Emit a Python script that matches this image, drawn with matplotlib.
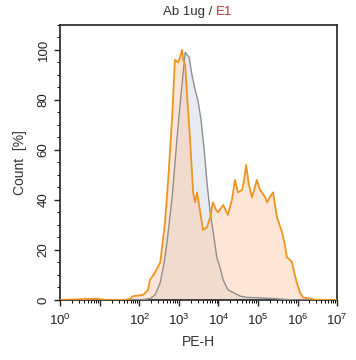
import numpy as np
import matplotlib
matplotlib.use("Agg")
import matplotlib.pyplot as plt
from matplotlib.ticker import LogLocator, NullFormatter

plt.rcParams['font.family'] = ['Liberation Sans', 'DejaVu Sans']
plt.rcParams['mathtext.fontset'] = 'custom'
plt.rcParams['mathtext.rm'] = 'Liberation Sans'
plt.rcParams['mathtext.it'] = 'Liberation Sans'

# sample (orange) histogram, x given as decades of PE-H
orange_dec = [0, 0.93, 1.14, 1.64, 1.77, 1.84, 2.10, 2.22, 2.27, 2.40, 2.53, 2.65, 2.73,
              2.83, 2.90, 2.98, 3.03, 3.08, 3.11, 3.16, 3.21, 3.28, 3.36, 3.41, 3.46,
              3.54, 3.61, 3.71, 3.79, 3.86, 3.94, 3.99, 4.12, 4.24, 4.34, 4.42, 4.49,
              4.60, 4.65, 4.70, 4.77, 4.85, 4.92, 4.97, 5.05, 5.10, 5.18, 5.23, 5.30,
              5.38, 5.48, 5.61, 5.68, 5.73, 5.81, 5.86, 5.93, 5.98, 6.06, 6.14, 6.31,
              6.49, 7]
orange_cnt = [0, 0.5, 0, 0, 0.5, 1.5, 2, 4, 8, 11, 15, 31, 48,
              73, 96, 95, 97, 100, 96, 94, 81, 65, 43, 39, 43,
              35, 28, 29, 33, 39, 36, 35, 38, 34, 40, 48, 43,
              44, 48, 54, 46, 41, 45, 48, 44, 43, 41, 39, 41,
              43, 33, 27, 22, 17, 16, 15, 10, 7, 3, 1, 0.5,
              0, 0]

# control (gray) histogram
gray_dec = [0, 2.02, 2.27, 2.40, 2.53, 2.63, 2.70, 2.83, 2.95, 3.03, 3.11, 3.16, 3.21,
            3.26, 3.33, 3.41, 3.48, 3.56, 3.64, 3.71, 3.79, 3.86, 3.96, 4.04, 4.12,
            4.24, 4.37, 4.55, 4.72, 5.05, 5.43, 5.68, 5.93, 7]
gray_cnt = [0, 0, 0.5, 2, 7, 15, 23, 41, 64, 78, 91, 99, 98,
            97, 90, 84, 80, 72, 60, 47, 35, 28, 17, 13, 8,
            4, 3, 1.5, 1, 0.8, 0.5, 0.2, 0, 0]

xticks_dec = [0, 1, 2, 3, 4, 5, 6, 7]
xtick_labels = ['$10^{0}$', '', '$10^{2}$', '$10^{3}$', '$10^{4}$', '$10^{5}$', '$10^{6}$', '$10^{7}$']

fig = plt.figure(figsize=(3.56, 3.6), dpi=100)
ax = fig.add_axes([0.169, 0.167, 0.778, 0.764])

gx = 10.0 ** np.array(gray_dec)
ox = 10.0 ** np.array(orange_dec)

ax.fill_between(gx, gray_cnt, color='#e9ebf2', lw=0, zorder=1)
ax.fill_between(ox, orange_cnt, color='#fbc9a3', alpha=0.45, lw=0, zorder=2)
ax.plot(gx, gray_cnt, color='#8f8f8f', lw=1.0, zorder=3)
ax.plot(ox, orange_cnt, color='#ee9420', lw=1.3, zorder=4)

ax.set_xscale('log')
ax.set_xlim(1, 1e7)
ax.set_ylim(0, 110)
ax.set_xticks(10.0 ** np.array(xticks_dec))
ax.set_xticklabels(xtick_labels)
ax.xaxis.set_minor_locator(LogLocator(base=10, subs=np.arange(2, 10), numticks=100))
ax.xaxis.set_minor_formatter(NullFormatter())
ax.set_yticks([0, 20, 40, 60, 80, 100])
ax.set_yticks(np.arange(0, 111, 5), minor=True)
ax.tick_params(axis='both', labelsize=9.5, colors='#222222', length=4, width=1)
ax.tick_params(axis='both', which='minor', length=2, width=0.7)
ax.tick_params(axis='x', pad=5)
for lab in ax.get_yticklabels():
    lab.set_rotation(90)
    lab.set_va('center')
for s in ax.spines.values():
    s.set_linewidth(1.2)
    s.set_color('#222222')

ax.set_xlabel('PE-H', fontsize=10, color='#333333', labelpad=5)
ax.set_ylabel('Count  [%]', fontsize=10, color='#333333', labelpad=8)

fig.text(0.596, 0.967, 'Ab 1ug /', ha='right', va='center', fontsize=9.5, color='#333333')
fig.text(0.607, 0.967, 'E1', ha='left', va='center', fontsize=9.5, color='#c8323c')

fig.savefig('out.png', dpi=100)
